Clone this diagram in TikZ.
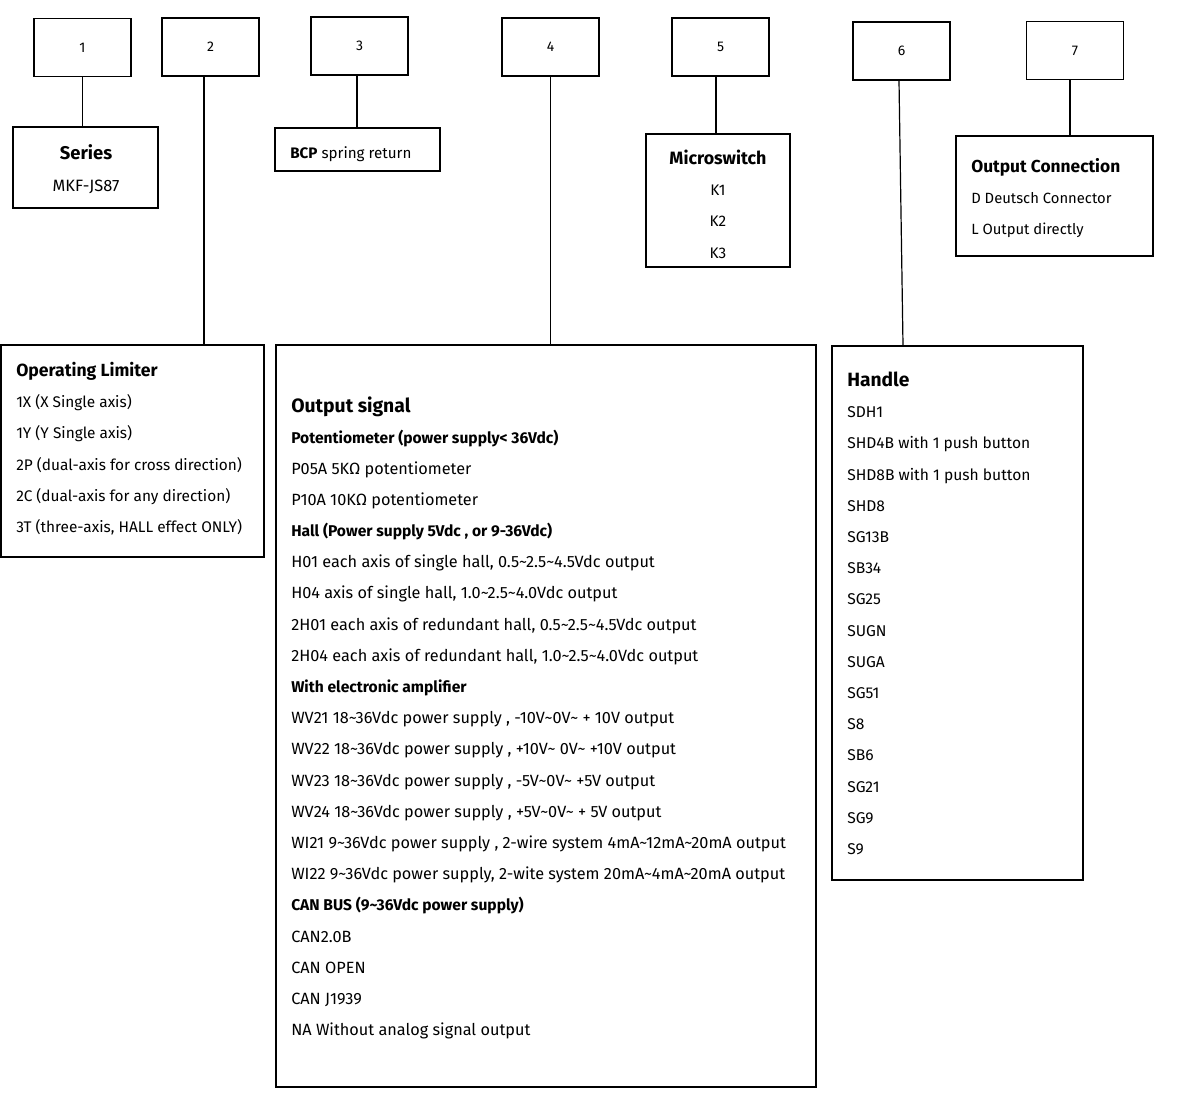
\documentclass[tikz,border=0pt]{standalone}
\usepackage{fontspec}
\setmainfont{Fira Sans}
\usetikzlibrary{calc}
\newcommand{\fsz}[1]{\fontsize{#1}{#1}\selectfont}
\begin{document}
\begin{tikzpicture}[x=0.75pt,y=-0.75pt,
  numbox/.style={draw,line width=1pt,minimum width=72.75pt,minimum height=43.5pt,inner sep=0pt,font=\fsz{10.5}},
  frame/.style={draw,line width=1pt,inner sep=0pt},
  conn/.style={line width=0.9pt},
  thick conn/.style={line width=1.6pt},
  txt/.style={anchor=mid west,inner sep=0pt,yshift=-1.5pt,font=\fsz{11.5}},
  ctxt/.style={anchor=mid,inner sep=0pt,yshift=-1.5pt,font=\fsz{11.5}},
  head/.style={anchor=mid west,inner sep=0pt,yshift=-1.5pt,font=\fsz{13.5}\bfseries},
  sigtxt/.style={anchor=mid west,inner sep=0pt,yshift=-1.5pt,font=\fsz{12.2}},
  sub/.style={anchor=mid west,inner sep=0pt,yshift=-1.5pt,font=\fsz{11.7}\bfseries}]
\useasboundingbox (0,0) rectangle (1181,1092);
% number boxes
\node[numbox] (b1) at (82.5,47.5) {1};
\node[numbox] (b2) at (210.5,47) {2};
\node[numbox] (b3) at (359.5,46) {3};
\node[numbox] (b4) at (550.5,47) {4};
\node[numbox] (b5) at (720.5,47) {5};
\node[numbox] (b6) at (901.5,51) {6};
\node[numbox] (b7) at (1075,50.5) {7};
% frames
\node[frame,minimum width=108.75pt,minimum height=60.75pt] (series) at (85.5,167.5) {};
\node[frame,minimum width=123.75pt,minimum height=32.25pt] (bcp) at (357.5,149.5) {};
\node[frame,minimum width=108pt,minimum height=99.75pt] (micro) at (718,200.5) {};
\node[frame,minimum width=147.75pt,minimum height=90pt] (outc) at (1054.5,196) {};
\node[frame,minimum width=197.25pt,minimum height=159pt] (lim) at (132.5,451) {};
\node[frame,minimum width=405pt,minimum height=556.5pt] (sig) at (546,716) {};
\node[frame,minimum width=188.25pt,minimum height=400.5pt] (handle) at (957.5,613) {};
% connector start points
\coordinate (c2) at ($(b2.south)+(-6.5,0)$);
\coordinate (c3) at ($(b3.south)+(-2.5,0)$);
\coordinate (c5) at ($(b5.south)+(-4.5,0)$);
\coordinate (c6) at ($(b6.south)+(-2.5,0)$);
\coordinate (c7) at ($(b7.south)+(-5,0)$);
\coordinate (e6) at ($(handle.north)+(-54.5,0)$);
% connectors
\draw[conn] (b1.south) -- (b1.south |- series.north);
\draw[conn] (c2) -- (c2 |- lim.north);
\draw[thick conn] (c3) -- (c3 |- bcp.north);
\draw[conn] (b4.south) -- (b4.south |- sig.north);
\draw[thick conn] (c5) -- (c5 |- micro.north);
\draw[conn] (c6) -- (e6);
\draw[thick conn] (c7) -- (c7 |- outc.north);
% series
\node[ctxt,font=\fsz{13.8}\bfseries] (sert) at (86,154) {Series};
\node[ctxt,font=\fsz{12.3}] (serv) at (86,186) {MKF-JS87};
% bcp
\node[txt,font=\fsz{11.4}] (bcpt) at (290,153) {\textbf{BCP} spring return};
% micro
\node[ctxt,font=\fsz{13.4}\bfseries] (mt) at (718,159) {Microswitch};
\node[ctxt] (k1) at (718,190) {K1};
\node[ctxt] (k2) at (718,221) {K2};
\node[ctxt] (k3) at (718,253) {K3};
% output connection
\node[head,font=\fsz{13}\bfseries] (oct) at (971,167) {Output Connection};
\node[txt,font=\fsz{11.1}] (oc1) at (971,198) {D Deutsch Connector};
\node[txt,font=\fsz{11.1}] (oc2) at (971,229) {L Output directly};
% limiter
\node[head,font=\fsz{13.2}\bfseries] (limt) at (16,371) {Operating Limiter};
\foreach \t [count=\i] in {1X (X Single axis),1Y (Y Single axis),2P (dual-axis for cross direction),2C (dual-axis for any direction),{3T (three-axis, HALL effect ONLY)}}
  \node[txt,font=\fsz{11.55}] (lim\i) at (16,371+31.2*\i) {\t};
% output signal
\node[head,font=\fsz{14.5}\bfseries] (sigt) at (291,407) {Output signal};
\node[sub] (s1) at (291,438) {Potentiometer (power supply< 36Vdc)};
\node[sigtxt] (s2) at (291,469) {P05A 5KΩ potentiometer};
\node[sigtxt] (s3) at (291,500) {P10A 10KΩ potentiometer};
\node[sub] (s4) at (291,531) {Hall (Power supply 5Vdc , or 9-36Vdc)};
\node[sigtxt] (s5) at (291,562) {H01 each axis of single hall, 0.5\textasciitilde2.5\textasciitilde4.5Vdc output};
\node[sigtxt] (s6) at (291,593) {H04 axis of single hall, 1.0\textasciitilde2.5\textasciitilde4.0Vdc output};
\node[sigtxt] (s7) at (291,625) {2H01 each axis of redundant hall, 0.5\textasciitilde2.5\textasciitilde4.5Vdc output};
\node[sigtxt] (s8) at (291,656) {2H04 each axis of redundant hall, 1.0\textasciitilde2.5\textasciitilde4.0Vdc output};
\node[sub] (s9) at (291,687) {With electronic amplifier};
\node[sigtxt] (s10) at (291,718) {WV21 18\textasciitilde36Vdc power supply , -10V\textasciitilde0V\textasciitilde{} + 10V output};
\node[sigtxt] (s11) at (291,749) {WV22 18\textasciitilde36Vdc power supply , +10V\textasciitilde{} 0V\textasciitilde{} +10V output};
\node[sigtxt] (s12) at (291,781) {WV23 18\textasciitilde36Vdc power supply , -5V\textasciitilde0V\textasciitilde{} +5V output};
\node[sigtxt] (s13) at (291,812) {WV24 18\textasciitilde36Vdc power supply , +5V\textasciitilde0V\textasciitilde{} + 5V output};
\node[sigtxt] (s14) at (291,843) {WI21 9\textasciitilde36Vdc power supply , 2-wire system 4mA\textasciitilde12mA\textasciitilde20mA output};
\node[sigtxt] (s15) at (291,874) {WI22 9\textasciitilde36Vdc power supply, 2-wite system 20mA\textasciitilde4mA\textasciitilde20mA output};
\node[sub] (s16) at (291,905) {CAN BUS (9\textasciitilde36Vdc power supply)};
\node[sigtxt] (s17) at (291,937) {CAN2.0B};
\node[sigtxt] (s18) at (291,968) {CAN OPEN};
\node[sigtxt] (s19) at (291,999) {CAN J1939};
\node[sigtxt] (s20) at (291,1030) {NA Without analog signal output};
% handle
\node[head,font=\fsz{14.4}\bfseries] (ht) at (847,381) {Handle};
\foreach \t [count=\i] in {SDH1,SHD4B with 1 push button,SHD8B with 1 push button,SHD8,SG13B,SB34,SG25,SUGN,SUGA,SG51,S8,SB6,SG21,SG9,S9}
  \node[txt,font=\fsz{11.7}] (h\i) at (847,381+31.2*\i) {\t};
\end{tikzpicture}
\end{document}
